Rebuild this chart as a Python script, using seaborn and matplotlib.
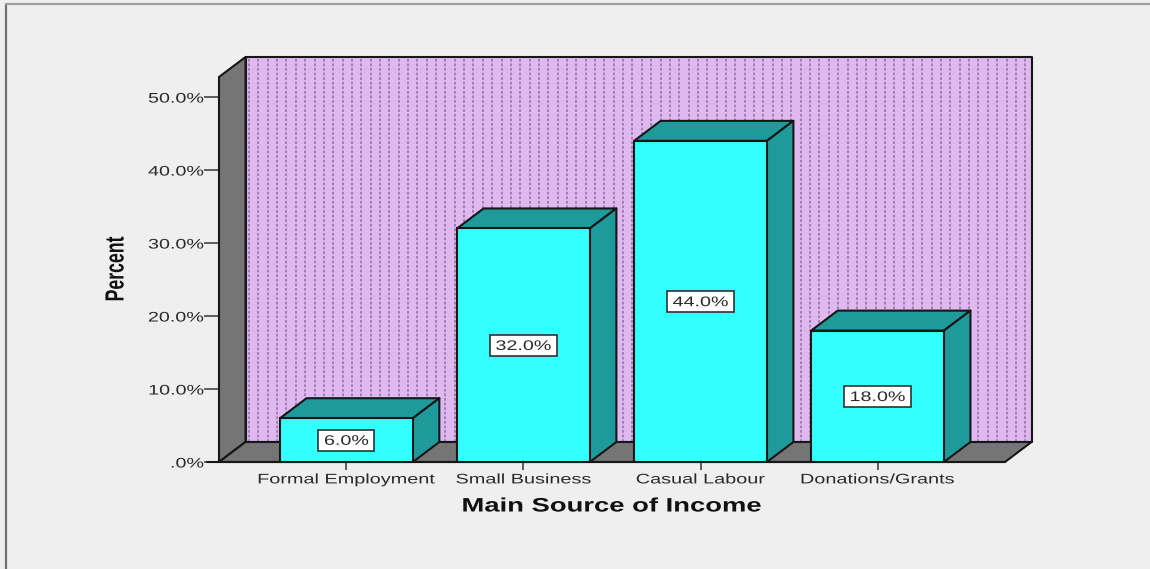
"""
Aim: Main source of income bar chart with a fake 3D box
"""

import numpy as np
import matplotlib
matplotlib.use('Agg')
import matplotlib.pyplot as plt
from matplotlib.patches import Polygon, Rectangle
from matplotlib.patheffects import AbstractPathEffect
from matplotlib.transforms import Affine2D
import seaborn as sns

categories = ['Formal Employment', 'Small Business', 'Casual Labour', 'Donations/Grants']
percent = [6.0, 32.0, 44.0, 18.0]
value_labels = ['6.0%', '32.0%', '44.0%', '18.0%']
yticks = [0, 10, 20, 30, 40, 50]
yticklabels = ['.0%', '10.0%', '20.0%', '30.0%', '40.0%', '50.0%']

W, H = 1150, 569
BG = '#efefef'
CYAN = '#33ffff'
TEAL = '#1f9a9a'
GRAY = '#757575'
WALL = '#dfb8ef'
LINE = '#161616'
TXT = '#2a2a2a'


class Stretch(AbstractPathEffect):
	# the reference font is much wider than any installed one
	def __init__(self, sx, sy=1.0, anchor='center'):
		super().__init__()
		self.sx, self.sy, self.anchor = sx, sy, anchor

	def draw_path(self, renderer, gc, tpath, affine, rgbFace=None):
		ext = tpath.get_extents()
		x = ext.x1 if self.anchor == 'right' else (ext.x0+ext.x1)/2
		t = Affine2D().translate(-x, 0).scale(self.sx, self.sy).translate(x, 0)
		renderer.draw_path(gc, tpath, t+affine, rgbFace)


sns.set_theme(style='white')
plt.rcParams['font.family'] = ['Liberation Sans', 'DejaVu Sans']

fig = plt.figure(figsize=(W/100, H/100), dpi=100, facecolor=BG)
# pixel box of the front face of the chart
left, right, top, bottom = 219, 1005, 77, 462
ax = fig.add_axes([left/W, 1-bottom/H, (right-left)/W, (bottom-top)/H])
ax.patch.set_visible(False)

sns.barplot(x=categories, y=percent, width=0.75, color=CYAN, saturation=1,
            edgecolor=LINE, linewidth=1.5, ax=ax, zorder=5)

xmin, xmax = -0.72, 3.72
ymax = 52.75
ax.set_xlim(xmin, xmax)
ax.set_ylim(0, ymax)
dx = 26.5/177
dy = 20/7.3

edge = dict(edgecolor=LINE, linewidth=1.5, clip_on=False, joinstyle='round')

# box walls
ax.add_patch(Rectangle((xmin+dx, dy), xmax-xmin, ymax, facecolor=WALL, zorder=1, **edge))
for x in np.arange(xmin+dx+0.02, xmax+dx-0.01, 9.35/177):
	ax.plot([x, x], [dy, ymax+dy], color='#8f6fa0', lw=1.1, ls=(0, (1.8, 1.2)), zorder=1.5, clip_on=False)
ax.add_patch(Polygon([(xmin, 0), (xmin+dx, dy), (xmin+dx, ymax+dy), (xmin, ymax)], facecolor=GRAY, zorder=2, **edge))
ax.add_patch(Polygon([(xmin, 0), (xmax, 0), (xmax+dx, dy), (xmin+dx, dy)], facecolor=GRAY, zorder=2, **edge))

# 3D sides of the bars, then the value boxes
for bar, lab in zip(ax.patches[:len(percent)], value_labels):
	x0, x1, h = bar.get_x(), bar.get_x()+bar.get_width(), bar.get_height()
	ax.add_patch(Polygon([(x0, h), (x1, h), (x1+dx, h+dy), (x0+dx, h+dy)], facecolor=TEAL, zorder=4, **edge))
	ax.add_patch(Polygon([(x1, 0), (x1+dx, dy), (x1+dx, h+dy), (x1, h)], facecolor=TEAL, zorder=4, **edge))
	bw = (12+11*len(lab))/177
	bh = 21/7.3
	ax.add_patch(Rectangle(((x0+x1)/2-bw/2, h/2-bh/2), bw, bh, facecolor='white', edgecolor='#303030', linewidth=1.2, zorder=6))
	ax.text((x0+x1)/2, h/2-0.1, lab, ha='center', va='center', fontsize=10, color=TXT, zorder=7,
	        path_effects=[Stretch(1.42)])

sns.despine(ax=ax, left=True, bottom=True, top=True, right=True)
ax.set_yticks(yticks)
ax.set_yticklabels(yticklabels)
ax.tick_params(axis='y', length=11, width=1.2, color='#444444', labelsize=10, labelcolor=TXT, pad=0, left=True)
ax.tick_params(axis='x', length=5.5, width=1.2, color='#444444', labelsize=10, labelcolor=TXT, pad=2, bottom=True)
for t in ax.get_xticklabels():
	t.set_path_effects([Stretch(1.43)])
for t in ax.get_yticklabels():
	t.set_path_effects([Stretch(1.42, anchor='right')])
ax.plot([xmin-0.07, xmax], [0, 0], color=LINE, lw=1.5, zorder=3, clip_on=False)

fig.text(612/W, 1-507/H, 'Main Source of Income', ha='center', va='center', fontsize=14,
         fontweight='bold', color='#111111', path_effects=[Stretch(1.41)])
fig.text(119/W, 1-269/H, 'Percent', ha='center', va='center', rotation=90, fontsize=14,
         fontweight='bold', color='#111111', path_effects=[Stretch(0.91, 1.35)])

# window edge
fig.add_artist(plt.Line2D([6/W, 6/W], [0, 1-4/H], color='#707070', lw=1.6))
fig.add_artist(plt.Line2D([6/W, 1], [1-4/H, 1-4/H], color='#a0a0a0', lw=1.6))

fig.savefig('out.png', dpi=100, facecolor=BG)
